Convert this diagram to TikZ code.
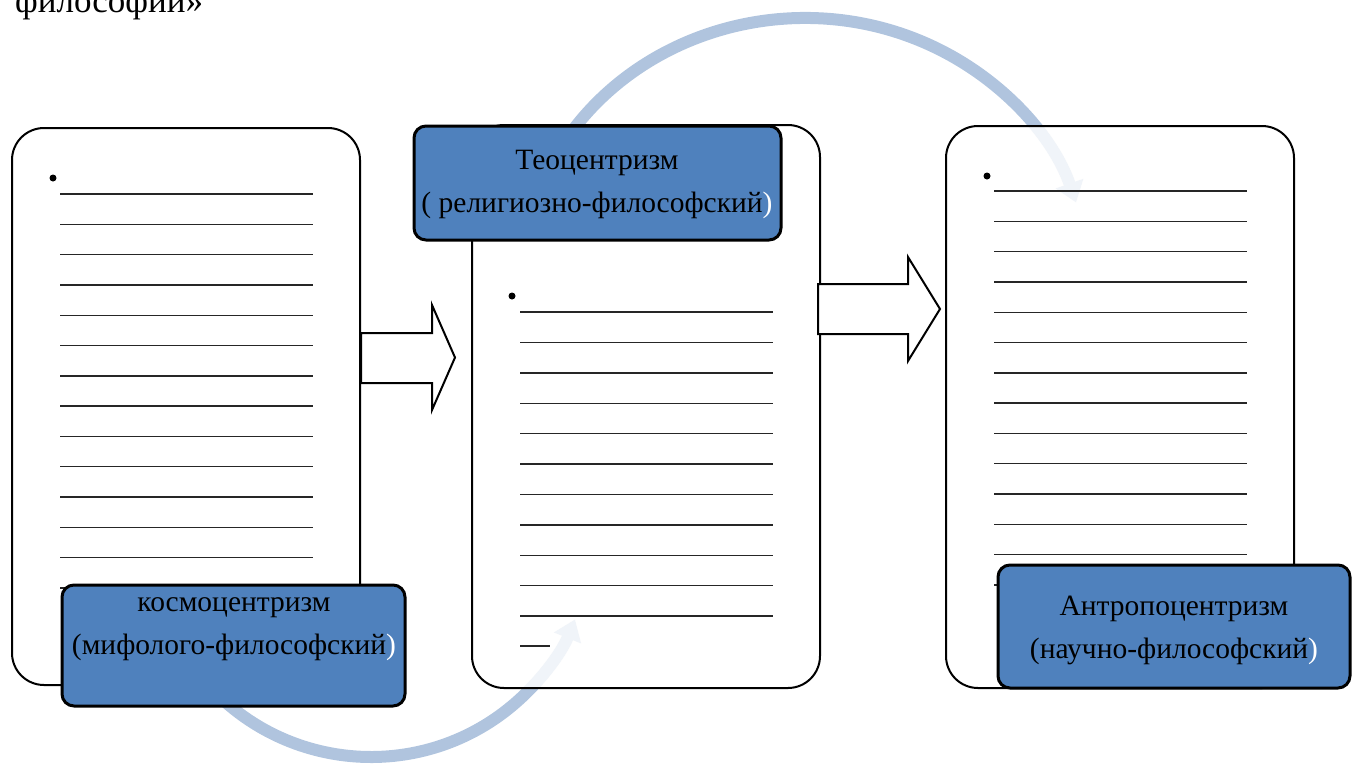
\documentclass[tikz,border=0pt]{standalone}
\usepackage{fontspec}
\setmainfont{Liberation Serif}
\usetikzlibrary{arrows.meta}
\definecolor{lbl}{RGB}{79,129,189}
\definecolor{arcc}{RGB}{176,196,222}
\begin{document}
\begin{tikzpicture}[x=1pt,y=-1pt,
  box/.style={draw=black, line width=2pt, rounded corners=32pt, fill=white, fill opacity=0.82, anchor=north west, inner sep=0pt, outer sep=0pt},
  lab/.style={draw=black, line width=3pt, rounded corners=12pt, fill=lbl, anchor=north west, inner sep=0pt, outer sep=0pt},
  ltxt/.style={font=\fontsize{29.5}{43}\selectfont, align=center, text=black, inner sep=0pt},
  ln/.style={line width=1.4pt, draw=black!85},
  curv/.style={draw=arcc, line width=12pt, -{Triangle[width=28pt,length=20pt]}},
  blk/.style={draw=black, line width=2pt, fill=white, line join=miter}]
\useasboundingbox (0,0) rectangle (1352,764);

% heading fragment
\node[anchor=base west, inner sep=0pt, font=\fontsize{35}{40}\selectfont] (head) at (15,12) {философии»};

% curved connectors
\draw[curv] (371,537) ++(140:220) arc[start angle=140, end angle=22, radius=220];
\draw[curv] (805,285) ++(208:285 and 267) arc[start angle=208, end angle=342, x radius=285, y radius=267];

% content boxes
\node[box, minimum width=348pt, minimum height=557pt] (b1) at (12,128) {};
\node[box, minimum width=348pt, minimum height=563pt] (b2) at (472,125) {};
\node[box, minimum width=348pt, minimum height=562pt] (b3) at (946,126) {};

% bullets and ruled lines
\fill (53,178) circle (3.5pt);
\fill (512,296) circle (3.5pt);
\fill (987,176) circle (3.5pt);
\foreach \i in {0,...,13} \draw[ln] (60,194+30.3*\i) -- (313,194+30.3*\i);
\foreach \i in {0,...,10} \draw[ln] (520,312+30.4*\i) -- (773,312+30.4*\i);
\draw[ln] (520,646) -- (550,646);
\foreach \i in {0,...,13} \draw[ln] (994,191+30.3*\i) -- (1247,191+30.3*\i);

% block arrows
\draw[blk] (361,333) -- (432,333) -- (432,305) -- (455,357.5) -- (432,410) -- (432,383) -- (361,383) -- cycle;
\draw[blk] (818,284) -- (908,284) -- (908,257) -- (940,309) -- (908,361) -- (908,334) -- (818,334) -- cycle;

% labels
\node[lab, minimum width=343pt, minimum height=121pt] (l1) at (62,585) {};
\node[lab, minimum width=367pt, minimum height=114pt] (l2) at (414,126) {};
\node[lab, minimum width=352pt, minimum height=123pt] (l3) at (998,565) {};

\node[ltxt] (t1) at (234,629) {космоцентризм\\(мифолого-философский\textcolor{white}{)}};
\node[ltxt] (t2) at (597,184) {Теоцентризм\\( религиозно-философский\textcolor{white}{)}};
\node[ltxt] (t3) at (1174,630) {Антропоцентризм\\(научно-философский\textcolor{white}{)}};
\end{tikzpicture}
\end{document}
